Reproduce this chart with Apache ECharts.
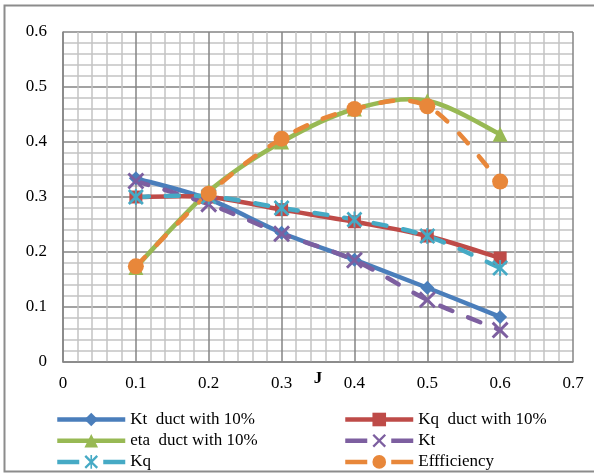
<!DOCTYPE html>
<html>
<head>
<meta charset="utf-8">
<script src="https://cdn.jsdelivr.net/npm/echarts@6/dist/echarts.min.js"></script>
<style>html,body{margin:0;padding:0;background:#fff;}#c{width:594px;height:473px;}</style>
</head>
<body>
<div id="c"></div>
<script>
const J = [0.1, 0.2, 0.3, 0.4, 0.5, 0.6];
const ktDuct = [0.334, 0.296, 0.235, 0.186, 0.135, 0.082];
const kqDuct = [0.300, 0.300, 0.277, 0.255, 0.229, 0.189];
const etaDuct = [0.172, 0.310, 0.400, 0.460, 0.475, 0.414];
const kt = [0.329, 0.287, 0.233, 0.185, 0.113, 0.058];
const kq = [0.300, 0.301, 0.280, 0.259, 0.229, 0.171];
const efficiency = [0.174, 0.306, 0.406, 0.460, 0.465, 0.328];
const names = ['Kt  duct with 10%', 'Kq  duct with 10%', 'eta  duct with 10%', 'Kt', 'Kq', 'Effficiency'];
const xTicks = [0, 0.1, 0.2, 0.3, 0.4, 0.5, 0.6, 0.7];
const yTicks = [0, 0.1, 0.2, 0.3, 0.4, 0.5, 0.6];

const pair = arr => J.map((x, i) => [x, arr[i]]);
const X_PATH = 'path://M0,1.2L1.2,0L5,3.8L8.8,0L10,1.2L6.2,5L10,8.8L8.8,10L5,6.2L1.2,10L0,8.8L3.8,5Z';
const STAR_PATH = 'path://M0,1.2L1.2,0L5,3.8L8.8,0L10,1.2L6.2,5L10,8.8L8.8,10L5,6.2L1.2,10L0,8.8L3.8,5ZM4.4,0H5.6V10H4.4Z';
const FONT = 'Liberation Serif';
const DASH = [13, 17];

// Smoothed (Catmull-Rom style, like the spreadsheet's smoothed lines) curve, positioned via the axis scales
function curve(name, data, color, dashed) {
  return {
    name: name + '__curve', type: 'custom', coordinateSystem: 'cartesian2d',
    data: [[J[0], data[0]]], silent: true, animation: false, clip: true,
    renderItem: function (params, api) {
      const p = J.map((x, i) => api.coord([x, data[i]]));
      const n = p.length;
      let d = 'M' + p[0][0] + ',' + p[0][1];
      for (let i = 0; i < n - 1; i++) {
        const p0 = p[Math.max(i - 1, 0)], p1 = p[i], p2 = p[i + 1], p3 = p[Math.min(i + 2, n - 1)];
        const c1 = [p1[0] + (p2[0] - p0[0]) / 6, p1[1] + (p2[1] - p0[1]) / 6];
        const c2 = [p2[0] - (p3[0] - p1[0]) / 6, p2[1] - (p3[1] - p1[1]) / 6];
        d += 'C' + c1[0] + ',' + c1[1] + ',' + c2[0] + ',' + c2[1] + ',' + p2[0] + ',' + p2[1];
      }
      return {
        type: 'path', shape: { pathData: d },
        style: { fill: 'none', stroke: color, lineWidth: 4.5, lineDash: dashed ? DASH : null, lineCap: 'round', lineJoin: 'round' }
      };
    }
  };
}

function marks(name, data, color, symbol, size, dashed) {
  return {
    name, type: 'line', data: pair(data),
    symbol, symbolSize: size, symbolKeepAspect: true,
    lineStyle: { color, width: 4.5, opacity: 0, type: dashed ? DASH : 'solid' },
    itemStyle: { color, borderWidth: 0 },
    emphasis: { disabled: true },
    animation: false
  };
}

const defs = [
  [names[0], ktDuct, '#4a7ebb', 'diamond', 14, false],
  [names[1], kqDuct, '#be4b48', 'rect', 13, false],
  [names[2], etaDuct, '#98b954', 'triangle', 15, false],
  [names[3], kt, '#7d5fa0', X_PATH, 17, true],
  [names[4], kq, '#46aac5', STAR_PATH, 16, true],
  [names[5], efficiency, '#e8873a', 'circle', 16, true]
];
const series = [];
defs.forEach(d => { series.push(curve(d[0], d[1], d[2], d[5])); series.push(marks(d[0], d[1], d[2], d[3], d[4], d[5])); });

function legendItem(name, dashed) {
  return { name, lineStyle: { opacity: 1, width: 4.5, type: dashed ? [22, 24] : 'solid', cap: 'butt' } };
}

const chart = echarts.init(document.getElementById('c'), null, { renderer: 'canvas' });
const legendCommon = {
  orient: 'vertical', itemWidth: 68, itemHeight: 17, itemGap: 4.2, padding: 0, height: 62,
  textStyle: { fontFamily: FONT, fontSize: 17, color: '#000', lineHeight: 17 },
  selectedMode: false, top: 411
};
chart.setOption({
  backgroundColor: '#fff',
  textStyle: { fontFamily: FONT },
  graphic: [{ type: 'rect', shape: { x: 4.5, y: 5.5, width: 600, height: 466 }, style: { fill: 'none', stroke: '#8c8c8c', lineWidth: 2 }, silent: true }],
  grid: { left: 63, top: 32, width: 510, height: 330, containLabel: false },
  xAxis: {
    type: 'value', min: 0, max: 0.7, interval: 0.1,
    name: 'J', nameLocation: 'middle', nameGap: 8, nameMoveOverlap: false,
    nameTextStyle: { fontFamily: FONT, fontSize: 17, fontWeight: 'bold', color: '#000' },
    axisLine: { show: true, onZero: false, lineStyle: { color: '#858585', width: 1.5 } },
    axisTick: { show: false },
    axisLabel: { margin: 13, fontFamily: FONT, fontSize: 17, color: '#000',
      formatter: v => { const t = xTicks.find(k => Math.abs(k - v) < 1e-9); return t === undefined ? '' : String(t); } },
    splitLine: { show: true, lineStyle: { color: '#858585', width: 1.5 } },
    minorTick: { show: false, splitNumber: 5 },
    minorSplitLine: { show: true, lineStyle: { color: '#c4c4c4', width: 1.5 } }
  },
  yAxis: {
    type: 'value', min: 0, max: 0.6, interval: 0.1,
    axisLine: { show: true, lineStyle: { color: '#858585', width: 1.5 } },
    axisTick: { show: false },
    axisLabel: { margin: 16, fontFamily: FONT, fontSize: 17, color: '#000',
      formatter: v => { const t = yTicks.find(k => Math.abs(k - v) < 1e-9); return t === undefined ? '' : String(t); } },
    splitLine: { show: true, lineStyle: { color: '#858585', width: 1.5 } },
    minorTick: { show: false, splitNumber: 5 },
    minorSplitLine: { show: true, lineStyle: { color: '#c4c4c4', width: 1.5 } }
  },
  legend: [
    Object.assign({}, legendCommon, { left: 55, data: [legendItem(names[0], false), legendItem(names[2], false), legendItem(names[4], true)] }),
    Object.assign({}, legendCommon, { left: 343, data: [legendItem(names[1], false), legendItem(names[3], true), legendItem(names[5], true)] })
  ],
  series: series
});
</script>
</body>
</html>
